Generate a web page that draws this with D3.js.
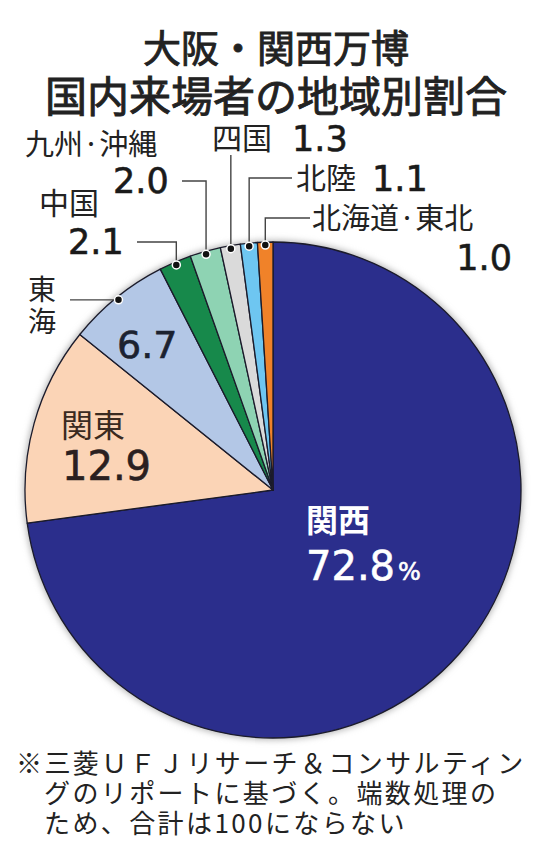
<!DOCTYPE html>
<html>
<head>
<meta charset="utf-8">
<script src="https://cdn.jsdelivr.net/npm/d3@7"></script>
<style>
  body { margin: 0; background: #fff; }
  svg { display: block; }
  .jp { font-family: "Noto Sans CJK JP", sans-serif; }
  .num { font-family: "DejaVu Sans", sans-serif; }
</style>
</head>
<body>
<div id="chart"></div>
<script>
const width = 550;
const height = 860;

// data
const regions = ["関西", "関東", "東海", "中国", "九州·沖縄", "四国", "北陸", "北海道·東北"];
const shares = [72.8, 12.9, 6.7, 2.1, 2.0, 1.3, 1.1, 1.0];
const shareLabels = ["72.8", "12.9", "6.7", "2.1", "2.0", "1.3", "1.1", "1.0"];
const sliceColors = ["#2b2e8c", "#fbd4b6", "#b3c7e6", "#17894b", "#8ed3b3", "#dadada", "#6ec6f1", "#f08229"];

const titleLines = ["大阪・関西万博", "国内来場者の地域別割合"];
const noteLines = [
  "※三菱ＵＦＪリサーチ＆コンサルティン",
  "グのリポートに基づく。端数処理の",
  "ため、合計は100にならない"
];

const cx = 273, cy = 490, radius = 248;

const svg = d3.select("#chart")
  .append("svg")
  .attr("width", width)
  .attr("height", height);

// soft halo round the pie
const defs = svg.append("defs");
defs.append("filter")
  .attr("id", "halo")
  .attr("x", "-10%").attr("y", "-10%")
  .attr("width", "120%").attr("height", "120%")
  .append("feGaussianBlur")
  .attr("stdDeviation", 3);

// title
svg.selectAll(".title")
  .data(titleLines)
  .enter()
  .append("text")
  .attr("class", "title jp")
  .attr("x", 276)
  .attr("y", (d, i) => i === 0 ? 62 : 112)
  .attr("text-anchor", "middle")
  .attr("font-size", (d, i) => i === 0 ? 38 : 42)
  .attr("fill", "#222")
  .attr("stroke", "#222")
  .attr("stroke-width", 0.9)
  .text(d => d);

const pieData = regions.map((r, i) => ({ region: r, value: shares[i], label: shareLabels[i], color: sliceColors[i] }));

const pie = d3.pie()
  .value(d => d.value)
  .sort(null);

const arcs = pie(pieData);

const arc = d3.arc()
  .innerRadius(0)
  .outerRadius(radius);

const g = svg.append("g")
  .attr("transform", `translate(${cx},${cy})`);

g.append("circle")
  .attr("r", radius + 2)
  .attr("fill", "#b8b8b8")
  .attr("filter", "url(#halo)");

g.selectAll("path")
  .data(arcs)
  .enter()
  .append("path")
  .attr("d", arc)
  .attr("fill", d => d.data.color)
  .attr("stroke", "#1b1b2b")
  .attr("stroke-width", 1.3)
  .attr("stroke-linejoin", "round");

// point on the rim at the middle of a slice
function rimPoint(d, r) {
  const a = (d.startAngle + d.endAngle) / 2;
  return [cx + r * Math.sin(a), cy - r * Math.cos(a)];
}

// leader lines for the small slices: elbow height and end x
const leaders = {
  "東海": { endX: 70 },
  "中国": { elbowY: 242, endX: 137 },
  "九州·沖縄": { elbowY: 181, endX: 182 },
  "四国": { elbowY: 155 },
  "北陸": { elbowY: 178, endX: 292 },
  "北海道·東北": { elbowY: 218, endX: 310 }
};

arcs.forEach(d => {
  const L = leaders[d.data.region];
  if (!L) return;
  const [px, py] = rimPoint(d, radius - 3);
  let pts;
  if (L.elbowY === undefined) {
    pts = [[px, py], [L.endX, py]];
  } else if (L.endX === undefined) {
    pts = [[px, py], [px, L.elbowY]];
  } else {
    pts = [[px, py], [px, L.elbowY], [L.endX, L.elbowY]];
  }
  svg.append("path")
    .attr("d", d3.line()(pts))
    .attr("fill", "none")
    .attr("stroke", "#444")
    .attr("stroke-width", 1.4);
  svg.append("circle")
    .attr("cx", px)
    .attr("cy", py)
    .attr("r", 4)
    .attr("fill", "#111")
    .attr("stroke", "#fff")
    .attr("stroke-width", 1.5);
});

// labels: name and value placement
function jpText(x, y, size, str, fill, anchor, weight) {
  return svg.append("text")
    .attr("class", "jp")
    .attr("x", x).attr("y", y)
    .attr("font-size", size)
    .attr("font-weight", weight || "normal")
    .attr("text-anchor", anchor || "start")
    .attr("fill", fill || "#222")
    .text(str);
}
function numText(x, y, size, str, fill, anchor) {
  return svg.append("text")
    .attr("class", "num")
    .attr("x", x).attr("y", y)
    .attr("font-size", size)
    .attr("text-anchor", anchor || "start")
    .attr("fill", fill || "#1a1a1a")
    .attr("stroke", fill || "#1a1a1a")
    .attr("stroke-width", 0.6)
    .text(str);
}

const byName = {};
arcs.forEach(d => { byName[d.data.region] = d.data; });

// 関西 (inside, white)
jpText(306, 532, 32, byName["関西"].region, "#fff", "start", "bold");
const kansaiNum = numText(306, 580, 40, byName["関西"].label, "#fff");
kansaiNum.append("tspan").attr("font-size", 24).attr("dx", 3).text("%");

// 関東 (inside)
jpText(61, 437, 32, byName["関東"].region, "#3a2a20");
numText(62, 480, 40, byName["関東"].label, "#2a2020");

// 東海 (value inside, name stacked outside)
numText(117, 358, 38, byName["東海"].label, "#1c2230");
jpText(28, 300, 28, byName["東海"].region[0]);
jpText(28, 332, 28, byName["東海"].region[1]);

// 中国
jpText(39, 214, 30, byName["中国"].region);
numText(68, 254, 35, byName["中国"].label);

// 九州・沖縄
jpText(25, 155, 29, byName["九州·沖縄"].region);
numText(113, 193, 35, byName["九州·沖縄"].label);

// 四国
jpText(212, 149, 30, byName["四国"].region);
numText(292, 151, 35, byName["四国"].label);

// 北陸
jpText(296, 189, 30, byName["北陸"].region);
numText(372, 191, 35, byName["北陸"].label);

// 北海道・東北
jpText(312, 229, 29, byName["北海道·東北"].region);
numText(512, 270, 35, byName["北海道·東北"].label, null, "end");

// footnote
svg.selectAll(".note")
  .data(noteLines)
  .enter()
  .append("text")
  .attr("class", "note jp")
  .attr("x", (d, i) => i === 0 ? 16 : 44)
  .attr("y", (d, i) => 773 + i * 30)
  .attr("font-size", 26)
  .attr("letter-spacing", 2.4)
  .attr("fill", "#222")
  .text(d => d);
</script>
</body>
</html>
